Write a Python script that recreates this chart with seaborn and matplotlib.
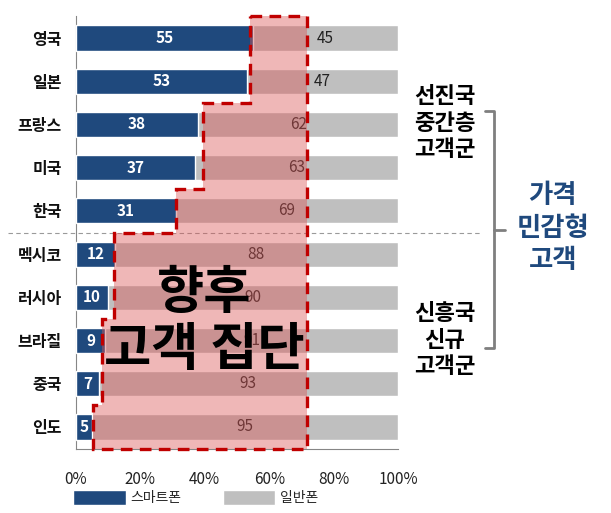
import numpy as np
import pandas as pd
import matplotlib
matplotlib.use("Agg")
import matplotlib.pyplot as plt
import seaborn as sns
from matplotlib.patches import Polygon
from matplotlib.lines import Line2D

# ---- data ----
countries = ["영국", "일본", "프랑스", "미국", "한국", "멕시코", "러시아", "브라질", "중국", "인도"]
smartphone = [55, 53, 38, 37, 31, 12, 10, 9, 7, 5]
feature_phone = [45, 47, 62, 63, 69, 88, 90, 91, 93, 95]
x_ticks = [0, 20, 40, 60, 80, 100]
x_tick_labels = ["0%", "20%", "40%", "60%", "80%", "100%"]
series_names = ["스마트폰", "일반폰"]
# outline of the "future customers" region (x in %, y in category index)
region_x = [54, 71.6, 71.6, 5.2, 5.2, 8.0, 8.0, 11.7, 11.7, 31.0, 31.0, 39.5, 39.5, 54]
region_y = [-0.5, -0.5, 9.5, 9.5, 8.5, 8.5, 6.5, 6.5, 4.5, 4.5, 3.5, 3.5, 1.5, 1.5]

BLUE = "#1F497D"
GRAY = "#BFBFBF"

sns.set_style("white")
plt.rcParams["font.family"] = ["Noto Sans CJK KR", "DejaVu Sans"]

df = pd.DataFrame({"country": countries,
                   "smart": smartphone,
                   "feature": feature_phone})
df["total"] = df["smart"] + df["feature"]

fig = plt.figure(figsize=(6.11, 5.13), dpi=100)
ax = fig.add_axes([76 / 611, 1 - 448.6 / 513, 322 / 611, 432.2 / 513])

sns.barplot(data=df, y="country", x="total", orient="h", color=GRAY,
            width=0.58, saturation=1, ax=ax, label=series_names[1], zorder=2)
sns.barplot(data=df, y="country", x="smart", orient="h", color=BLUE,
            width=0.58, saturation=1, ax=ax, label=series_names[0], zorder=3)
handles, labels = ax.get_legend_handles_labels()
if ax.get_legend() is not None:
    ax.get_legend().remove()

ax.set_xlim(0, 100)
ax.set_ylim(9.5, -0.5)
ax.set_xlabel("")
ax.set_ylabel("")
ax.set_xticks(x_ticks)
ax.set_xticklabels(x_tick_labels, fontsize=11, color="#222222")
ax.tick_params(axis="x", direction="out", length=4, color="#868686", pad=12)
ax.set_yticks(range(len(countries)))
ax.set_yticklabels(countries, fontsize=11.5, fontweight="bold", color="#111111")
ax.tick_params(axis="y", which="major", length=0, pad=10)
ax.set_yticks(np.arange(-0.5, len(countries), 1), minor=True)
ax.tick_params(axis="y", which="minor", direction="out", length=5, color="#868686")
for s in ["top", "right"]:
    ax.spines[s].set_visible(False)
for s in ["left", "bottom"]:
    ax.spines[s].set_color("#868686")
    ax.spines[s].set_linewidth(0.8)

# value labels
for i, (s, f) in enumerate(zip(smartphone, feature_phone)):
    ax.text(s / 2, i, str(s), ha="center", va="center", color="white",
            fontsize=11, fontweight="bold", zorder=4)
    ax.text(s + f / 2, i, str(f), ha="center", va="center", color="#222222",
            fontsize=11, zorder=4)

# highlighted region
pts = np.column_stack([region_x, region_y])
ax.add_patch(Polygon(pts, closed=True, facecolor="#DA5555", alpha=0.42,
                     edgecolor="none", zorder=5, clip_on=False))
ax.add_patch(Polygon(pts, closed=True, facecolor="none", edgecolor="#C00000",
                     linewidth=2.4, linestyle=(0, (3.5, 2.2)), zorder=6, clip_on=False))

ax.text(39.8, 6.55, "향후\n고객 집단", ha="center", va="center", fontsize=37,
        fontweight="black", color="black", linespacing=1.08, zorder=7)

# separator
ax.add_line(Line2D([-21, 126], [4.5, 4.5], color="#9A9A9A", linewidth=0.8,
                   linestyle=(0, (4, 3)), clip_on=False, zorder=1))

# bracket
bx, bl, br = 129.8, 127.0, 133.2
ax.add_line(Line2D([bl, bx, bx, bl], [1.69, 1.69, 7.18, 7.18], color="#7F7F7F",
                   linewidth=2.0, solid_joinstyle="round", clip_on=False))
ax.add_line(Line2D([bx, br], [4.45, 4.45], color="#7F7F7F", linewidth=2.0,
                   clip_on=False))

ax.text(114.6, 1.97, "선진국\n중간층\n고객군", ha="center", va="center", fontsize=16,
        fontweight="bold", color="black", linespacing=1.18)
ax.text(114.6, 6.99, "신흥국\n신규\n고객군", ha="center", va="center", fontsize=16,
        fontweight="bold", color="black", linespacing=1.18)
ax.text(148.1, 4.4, "가격\n민감형\n고객", ha="center", va="center", fontsize=19,
        fontweight="bold", color=BLUE, linespacing=1.25)

# legend
order = [labels.index(series_names[0]), labels.index(series_names[1])]
leg = fig.legend([handles[k] for k in order], [labels[k] for k in order],
                 loc="upper left", bbox_to_anchor=(73 / 611, 1 - 490 / 513),
                 ncol=2, frameon=False, fontsize=10, handlelength=3.8,
                 handleheight=1.3, handletextpad=0.3, columnspacing=3.0,
                 borderpad=0, borderaxespad=0)

fig.savefig("out.png", dpi=100)
